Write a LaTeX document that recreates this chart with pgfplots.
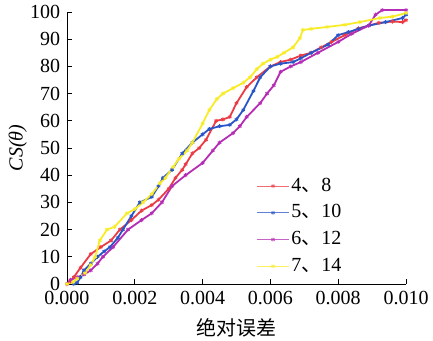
\documentclass[border=0pt]{standalone}
\usepackage{pgfplots}
\pgfplotsset{compat=1.18}
\usepackage{fontspec}
\setmainfont{Liberation Serif}
\newfontfamily\cjk{Noto Sans CJK SC}
\definecolor{cred}{RGB}{235,60,70}
\definecolor{cblue}{RGB}{40,85,200}
\definecolor{cmag}{RGB}{180,45,180}
\definecolor{cyel}{RGB}{248,236,40}
\begin{document}
\fontsize{20bp}{24bp}\selectfont
\begin{tikzpicture}
\begin{axis}[
  scale only axis, width=339bp, height=272bp,
  xmin=0, xmax=0.01, ymin=0, ymax=100,
  axis lines*=left, tick align=inside,
  axis line style={line width=0.9bp},
  tick style={line width=0.9bp, black},
  major tick length=5bp,
  xtick={0,0.002,0.004,0.006,0.008,0.01},
  ytick={0,10,...,100},
  scaled x ticks=false,
  /pgf/number format/assume math mode=true,
  xticklabel style={/pgf/number format/.cd, fixed, fixed zerofill, precision=3},
  ticklabel style={font=\fontsize{20bp}{24bp}\selectfont},
  xlabel={\cjk 绝对误差}, ylabel={\textit{CS(θ)}},
  label style={font=\fontsize{20bp}{24bp}\selectfont},
  ylabel style={at={(axis description cs:-0.145,0.5)}, anchor=center},
  clip=false,
  legend style={draw=none, fill=none, at={(0.55,0.02)}, anchor=south west,
    font=\fontsize{20bp}{24bp}\selectfont, row sep=6.5bp},
  legend cell align=left,
  legend image code/.code={\draw[mark repeat=2,mark phase=2,#1,line width=0.8bp,opacity=0.75] plot coordinates {(0bp,0bp) (16bp,0bp) (32bp,0bp)};},
  every axis plot/.append style={line width=1.8bp, mark=asterisk, mark size=2bp, mark options={line width=0.9bp}},
]
\addplot[cred] coordinates {(0,0)(0.0001,1)(0.0002,2.5)(0.0004,6)(0.0007,11)(0.001,13.6)(0.0013,16)(0.00156,20)(0.0019,23.5)(0.0022,27)(0.0025,29)(0.0027,31)(0.003,35)(0.0032,39)(0.0034,42)(0.0035,44)(0.0037,48)(0.0039,50)(0.0041,53)(0.0044,60)(0.0046,60.5)(0.0048,61.4)(0.005,66.5)(0.0053,72.4)(0.0056,76)(0.006,80)(0.0063,81.6)(0.0066,82.5)(0.0069,84)(0.0072,85)(0.0075,87)(0.0078,89)(0.0082,91.5)(0.0086,94)(0.0092,96)(0.0096,96.5)(0.0099,96.3)(0.01,97)};
\addlegendentry{4{\cjk 、}8}
\addplot[cblue] coordinates {(0.0002,0)(0.0003,0.5)(0.0004,2.5)(0.0005,5)(0.0007,7.5)(0.0009,10)(0.0011,12)(0.00127,13.6)(0.0015,17)(0.00165,20)(0.0019,25)(0.00215,30)(0.0025,32)(0.0027,36)(0.00283,39)(0.0031,42)(0.0034,48)(0.0037,52)(0.0040,55)(0.0042,57)(0.0045,58)(0.0048,58.5)(0.005,60.5)(0.0052,64)(0.0055,71)(0.0057,76)(0.006,80)(0.0063,81)(0.00667,81.6)(0.0069,83)(0.0072,85)(0.0077,88)(0.008,91.5)(0.0083,92.6)(0.0086,93.8)(0.0089,95)(0.0094,96.3)(0.0099,97.8)(0.01,99)};
\addlegendentry{5{\cjk 、}10}
\addplot[cmag] coordinates {(0,0)(0.0001,1.5)(0.0003,2.5)(0.0005,3.5)(0.0007,5)(0.0009,7.5)(0.00106,10)(0.00136,13.6)(0.0018,20)(0.0022,23.5)(0.0025,26)(0.0028,30)(0.0031,36)(0.0035,40)(0.004,44.5)(0.0043,49)(0.0045,52)(0.0049,55.5)(0.0051,58)(0.0053,61.4)(0.0057,66.5)(0.0059,70)(0.0061,73)(0.0063,78)(0.0066,80)(0.0069,81.6)(0.0074,85)(0.008,89)(0.0084,92)(0.0089,95)(0.0091,99)(0.0093,100.7)(0.01,100.7)};
\addlegendentry{6{\cjk 、}12}
\addplot[cyel] coordinates {(0,0)(0.00018,0.7)(0.0003,2)(0.00053,4)(0.0007,7)(0.00083,10)(0.00097,16)(0.00118,20)(0.0014,21)(0.00177,26)(0.002,27.5)(0.00224,30)(0.0025,33)(0.00274,37)(0.0029,39)(0.00313,43)(0.0033,46)(0.00354,49)(0.0037,52)(0.0040,59)(0.0042,64)(0.00442,68)(0.0046,70)(0.0049,72)(0.0052,74)(0.0054,76)(0.0056,79)(0.00578,81)(0.0060,82.5)(0.0062,83.5)(0.0064,85)(0.00667,87)(0.00687,90.4)(0.00696,93.4)(0.0072,93.8)(0.00767,94.5)(0.0082,95.3)(0.00864,96.3)(0.00923,97.8)(0.0096,98.3)(0.01,99.6)};
\addlegendentry{7{\cjk 、}14}
\end{axis}
\pgfresetboundingbox
\path (current axis.south west) ++(-67bp,-57bp) rectangle ++(433bp,341bp);
\end{tikzpicture}
\end{document}
